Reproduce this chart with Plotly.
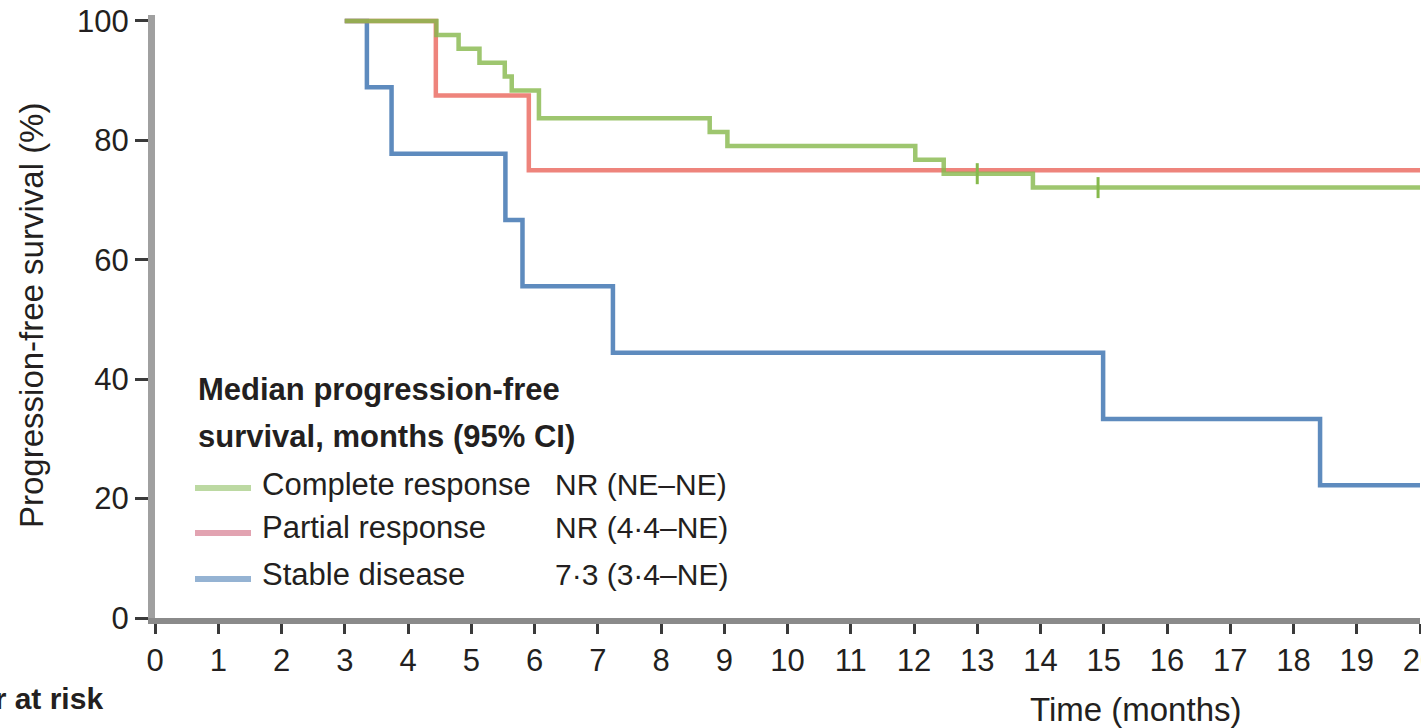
import plotly.graph_objects as go

# ---- data ----
green_t = [3.0, 4.45, 4.80, 5.13, 5.53, 5.64, 6.07, 8.77, 9.05, 12.02, 12.47, 13.88, 20.0]
green_s = [100, 97.67, 95.35, 93.02, 90.70, 88.37, 83.72, 81.40, 79.07, 76.74, 74.42, 72.09, 72.09]
green_cens_t = [13.0, 14.91]
green_cens_s = [74.42, 72.09]

red_t = [3.0, 4.44, 5.91, 20.0]
red_s = [100, 87.5, 75.0, 75.0]

blue_t = [3.0, 3.35, 3.74, 5.54, 5.81, 7.24, 14.99, 18.42, 20.0]
blue_s = [100, 88.89, 77.78, 66.67, 55.56, 44.44, 33.33, 22.22, 22.22]

x_ticks = list(range(0, 21))
y_ticks = [0, 20, 40, 60, 80, 100]

groups = ["Complete response", "Partial response", "Stable disease"]
medians = ["NR (NE\u2013NE)", "NR (4\u00b74\u2013NE)", "7\u00b73 (3\u00b74\u2013NE)"]

FONT = "Liberation Sans, Arial, sans-serif"
TXT = "#231f20"
C_GREEN = "#86b94c"
C_RED = "#ec6f66"
C_BLUE = "#4377b3"
LEG_COLORS = ["#bcd9a2", "#e2a3b1", "#95b3d3"]

fig = go.Figure()
fig.add_trace(go.Scatter(x=blue_t, y=blue_s, mode="lines", line=dict(color=C_BLUE, width=4.5, shape="hv"),
                         opacity=0.85, showlegend=False))
fig.add_trace(go.Scatter(x=red_t, y=red_s, mode="lines", line=dict(color=C_RED, width=4.5, shape="hv"),
                         opacity=0.85, showlegend=False))
fig.add_trace(go.Scatter(x=green_t, y=green_s, mode="lines", line=dict(color=C_GREEN, width=4.5, shape="hv"),
                         opacity=0.8, showlegend=False))
fig.add_trace(go.Scatter(x=green_cens_t, y=green_cens_s, mode="markers",
                         marker=dict(symbol="line-ns", size=15, line=dict(color=C_GREEN, width=3)),
                         showlegend=False))

W, H = 1421, 728
L, R, T, B = 155, 1, 15, 110
pw, ph = W - L - R, H - T - B


def px(x):  # window pixels -> paper
    return (x - L) / pw


def py(y):
    return (H - B - y) / ph


fig.update_layout(
    width=W, height=H,
    margin=dict(l=L, r=R, t=T, b=B),
    paper_bgcolor="white", plot_bgcolor="white",
    font=dict(family=FONT, color=TXT, size=31),
    xaxis=dict(range=[0, 20], tickvals=x_ticks, ticktext=[str(v) for v in x_ticks],
               ticks="outside", ticklen=10, tickwidth=3, tickcolor="#3a3a3a",
               showline=True, linecolor="#8a8a8a", linewidth=6,
               showgrid=False, zeroline=False, automargin=False, ticklabeloverflow="allow",
               tickfont=dict(size=31, family=FONT, color=TXT)),
    yaxis=dict(range=[0, 101], tickvals=y_ticks, ticktext=[str(v) for v in y_ticks],
               ticks="outside", ticklen=13, tickwidth=3, tickcolor="#3a3a3a",
               showline=True, linecolor="#a0a0a0", linewidth=7,
               showgrid=False, zeroline=False, automargin=False, ticklabeloverflow="allow",
               tickfont=dict(size=31, family=FONT, color=TXT)),
)

ann = []
ann.append(dict(text="Progression-free survival (%)", x=px(32), y=py(316), xref="paper", yref="paper",
                textangle=-90, showarrow=False, xanchor="center", yanchor="middle",
                font=dict(size=33, family=FONT, color=TXT)))
ann.append(dict(text="Time (months)", x=px(1135), y=py(709), xref="paper", yref="paper",
                showarrow=False, xanchor="center", yanchor="middle",
                font=dict(size=33, family=FONT, color=TXT)))
ann.append(dict(text="<b>Number at risk</b>", x=px(105), y=py(698), xref="paper", yref="paper",
                showarrow=False, xanchor="right", yanchor="middle",
                font=dict(size=30, family=FONT, color=TXT)))
ann.append(dict(text="<b>Median progression-free</b>", x=px(196), y=py(390), xref="paper", yref="paper",
                showarrow=False, xanchor="left", yanchor="middle",
                font=dict(size=31, family=FONT, color=TXT)))
ann.append(dict(text="<b>survival, months (95% CI)</b>", x=px(196), y=py(437), xref="paper", yref="paper",
                showarrow=False, xanchor="left", yanchor="middle",
                font=dict(size=31, family=FONT, color=TXT)))

row_y = [484, 527, 574]
line_y = [488, 533, 579]
shapes = []
for g, m, yy, ly, c in zip(groups, medians, row_y, line_y, LEG_COLORS):
    ann.append(dict(text=g, x=px(260), y=py(yy), xref="paper", yref="paper", showarrow=False,
                    xanchor="left", yanchor="middle", font=dict(size=31, family=FONT, color=TXT)))
    ann.append(dict(text=m, x=px(553), y=py(yy), xref="paper", yref="paper", showarrow=False,
                    xanchor="left", yanchor="middle", font=dict(size=30, family=FONT, color=TXT)))
    shapes.append(dict(type="line", xref="paper", yref="paper", x0=px(195), x1=px(251),
                       y0=py(ly), y1=py(ly), line=dict(color=c, width=6)))

fig.update_layout(annotations=ann, shapes=shapes)
# remove the browser's default 8px body margin so the figure starts at the window origin
fig.write_html("out.html", config={"displayModeBar": False},
               post_script="document.body.style.margin='0px';")
